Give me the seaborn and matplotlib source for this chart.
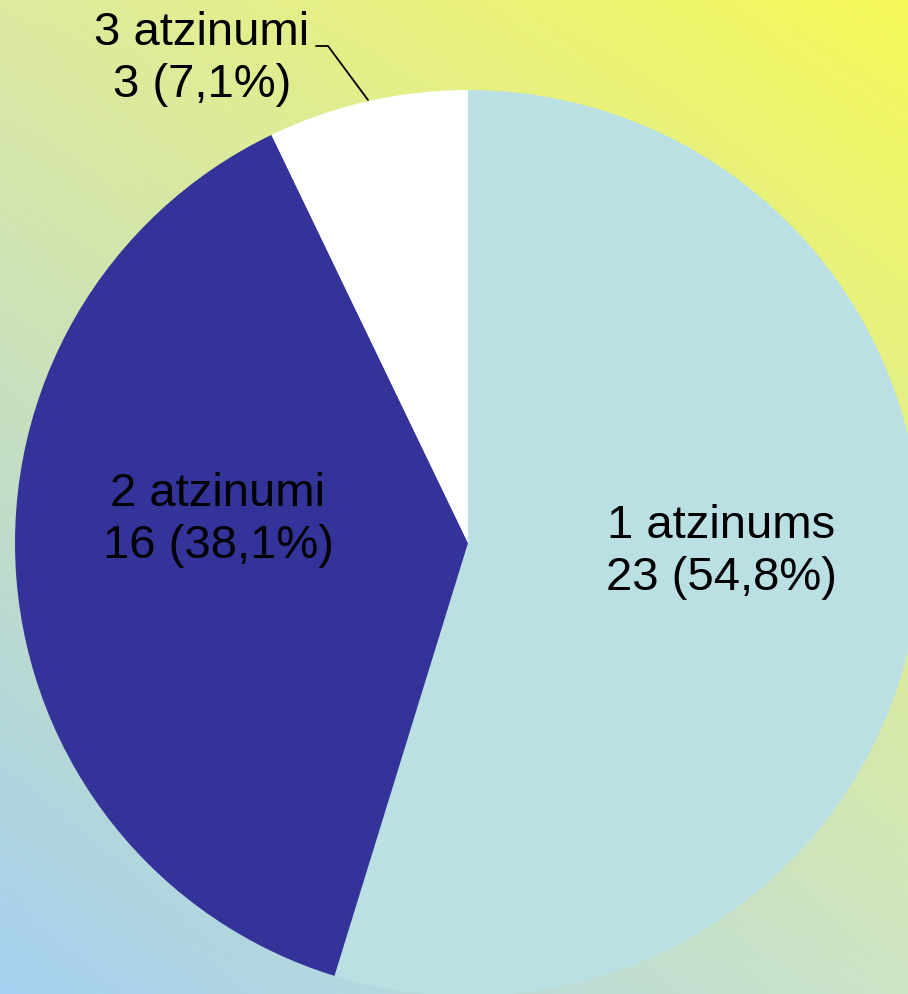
import numpy as np
import matplotlib
matplotlib.use("Agg")
import matplotlib.pyplot as plt
import seaborn as sns

categories = ["1 atzinums", "2 atzinumi", "3 atzinumi"]
counts = [23, 16, 3]
percent_labels = ["54,8%", "38,1%", "7,1%"]

sns.set_theme(style="white")
plt.rcParams["font.family"] = ["Liberation Sans", "DejaVu Sans"]

colors = sns.color_palette(["#bbe0e3", "#333399", "#ffffff"])

W, H = 908, 994
fig = plt.figure(figsize=(W / 100, H / 100), dpi=100)
ax = fig.add_axes([0, 0, 1, 1])
ax.set_xlim(0, W)
ax.set_ylim(0, H)
ax.axis("off")

# background gradient (bilinear between corner colours)
tl = np.array([222, 234, 160]) / 255
tr = np.array([245, 249, 88]) / 255
bl = np.array([165, 208, 240]) / 255
br = np.array([205, 228, 198]) / 255
u = np.linspace(0, 1, 200)[None, :, None]
v = np.linspace(0, 1, 200)[:, None, None]  # 0 top, 1 bottom
img = (1 - v) * ((1 - u) * tl + u * tr) + v * ((1 - u) * bl + u * br)
ax.imshow(img, extent=[0, W, 0, H], origin="upper", aspect="auto", zorder=0)

cx, cy, r = 468, H - 543, 453
wedges, _ = ax.pie(counts, colors=colors, startangle=90, counterclock=False,
                   center=(cx, cy), radius=r, frame=True,
                   wedgeprops=dict(linewidth=0))
for w in wedges:
    w.set_zorder(1)
ax.set_xlim(0, W)
ax.set_ylim(0, H)
ax.axis("off")

fs = 34
label_pos = [(721, H - 552), (218, H - 520), (202, H - 59)]
for (x, y), c, n, p in zip(label_pos, categories, counts, percent_labels):
    ax.text(x, y, f"{c}\n{n} ({p})", ha="center", va="center",
            fontsize=fs, color="black", linespacing=1.22, zorder=3)

# leader line for small slice
ax.plot([316, 328, 368], [H - 46, H - 46, H - 100], color="black", lw=1.3, zorder=3)

fig.savefig("out.png", dpi=100)
